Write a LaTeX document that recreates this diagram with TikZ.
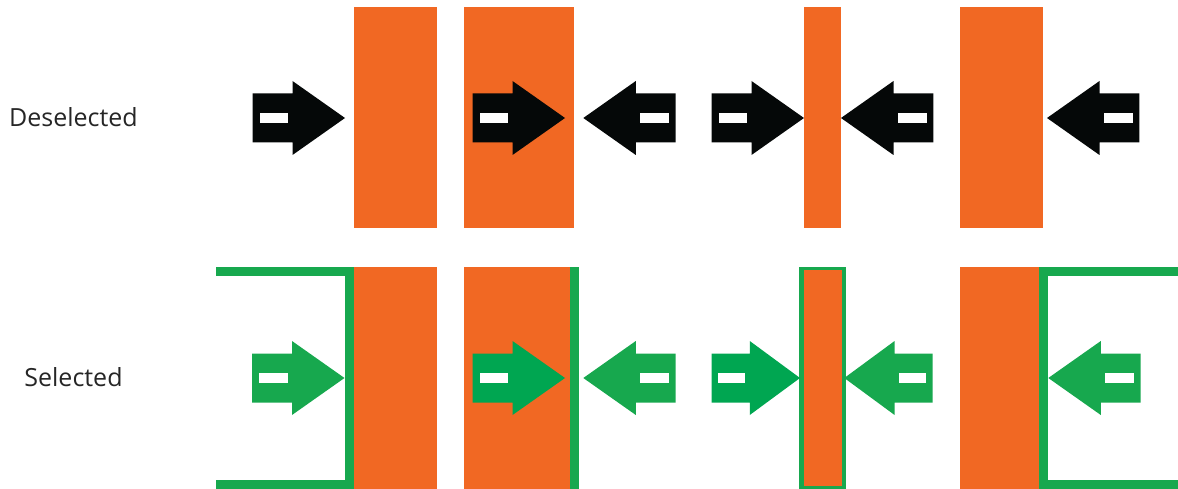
\documentclass[tikz,border=0pt]{standalone}
\usepackage{fontspec}
\setmainfont{Open Sans}
\definecolor{orng}{HTML}{F16823}
\definecolor{grnA}{HTML}{17A84E}
\definecolor{grnB}{HTML}{00A651}
\definecolor{blk}{HTML}{050808}
\tikzset{
  arr/.pic={
    \fill[#1] (0,0) -- (-52.5,-37) -- (-52.5,-24.5) -- (-92.3,-24.5)
      -- (-92.3,24.5) -- (-52.5,24.5) -- (-52.5,37) -- cycle;
    \fill[white] (-85.5,-4.8) rectangle (-57,4.8);
  },
  bar/.style={fill=orng},
  frame/.style={fill=grnA},
  lbl/.style={font=\fontsize{25}{29}\selectfont, text=black!85}
}
\begin{document}
\begin{tikzpicture}[x=1pt,y=-1pt]
\useasboundingbox (0,0) rectangle (1178,489);
% labels
\node[lbl] (des) at (73.5,117) {Deselected};
\node[lbl] (sel) at (73.5,377) {Selected};
% ---------- top row ----------
\fill[bar] (354,7) rectangle (437,228);
\fill[bar] (464,7) rectangle (574,228);
\fill[bar] (804,7) rectangle (840.5,228);
\fill[bar] (960,7) rectangle (1043,228);
\pic at (345,118) {arr=blk};
\pic at (565,118) {arr=blk};
\pic[xscale=-1] at (583.3,118) {arr=blk};
\pic at (804,118) {arr=blk};
\pic[xscale=-1] at (841,118) {arr=blk};
\pic[xscale=-1] at (1047,118) {arr=blk};
% ---------- bottom row ----------
% case 1
\fill[bar] (354,267) rectangle (437,489);
\fill[frame] (216,266.7) rectangle (354,276);
\fill[frame] (345,266.7) rectangle (354,489);
\fill[frame] (216,480) rectangle (354,489);
% case 2
\fill[bar] (464,267) rectangle (570,489);
\fill[frame] (570,267) rectangle (579,489);
% case 3
\fill[frame] (799.3,266.7) rectangle (846,489);
\fill[bar] (804,269.8) rectangle (841.7,485.5);
% case 4
\fill[bar] (960,267) rectangle (1039.3,489);
\fill[frame] (1039.3,266.7) rectangle (1048.3,489);
\fill[frame] (1039.3,266.7) rectangle (1178,276);
\fill[frame] (1039.3,480) rectangle (1178,489);
% arrows
\pic at (344.5,378) {arr=grnA};
\pic at (565,378) {arr=grnB};
\pic[xscale=-1] at (583.3,378) {arr=grnA};
\pic[xscale=0.957] at (800,378) {arr=grnB};
\pic[xscale=-0.958] at (844.3,378) {arr=grnA};
\pic[xscale=-1] at (1048.3,378) {arr=grnA};
\end{tikzpicture}
\end{document}
